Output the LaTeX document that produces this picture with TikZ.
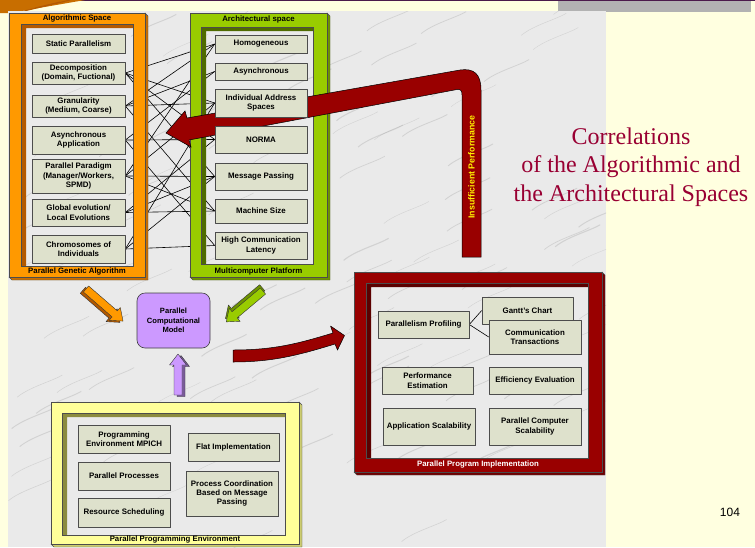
\documentclass[tikz,border=0pt]{standalone}
\usepackage{fontspec}
\setmainfont{Liberation Sans}
\newfontfamily\titlefont{Liberation Serif}
\usetikzlibrary{calc,arrows.meta,shadows}
\definecolor{slide}{HTML}{FFFFE0}
\definecolor{marble}{HTML}{EAEAEA}
\definecolor{boxfill}{HTML}{DEE1CC}
\definecolor{orM}{HTML}{FF9900}\definecolor{orD}{HTML}{B35900}\definecolor{orS}{HTML}{C86E00}
\definecolor{grM}{HTML}{99CC00}\definecolor{grD}{HTML}{4F6B00}\definecolor{grS}{HTML}{6E9400}
\definecolor{rdM}{HTML}{990000}\definecolor{rdD}{HTML}{5C0000}\definecolor{rdS}{HTML}{700000}
\definecolor{ylM}{HTML}{FFFF99}\definecolor{ylD}{HTML}{8C8C3F}\definecolor{ylS}{HTML}{CCCC70}
\definecolor{modelc}{HTML}{CC99FF}
\definecolor{titlered}{HTML}{990033}
\definecolor{topline}{HTML}{4B1A4B}
\pgfdeclarelayer{bg}\pgfdeclarelayer{lines}\pgfdeclarelayer{frames}
\pgfsetlayers{bg,lines,frames,main}
\tikzset{
  bx/.style={draw=black!70, line width=0.6pt, fill=boxfill, align=center,
    font=\bfseries\fontsize{7.9}{9.4}\selectfont, inner sep=1pt,
    drop shadow={shadow xshift=0.8pt, shadow yshift=-0.8pt, fill=black!65, opacity=1}},
  hd/.style={font=\bfseries\fontsize{7.8}{9}\selectfont, inner sep=0pt},
  link/.style={draw=black, line width=0.6pt},
}
% box: name, cx, cy, width, height, text
\newcommand\bxn[6]{\node[bx, minimum width=#4pt, minimum height=#5pt] (#1) at (#2,#3) {#6};}
% 3D frame: x1,y1,x2,y2, ix1,iy1,ix2,iy2, colour prefix
\newcommand\tdframe[9]{%
  \fill[#9S, draw=black!70, line width=0.4pt] (#3,#2) -- (#3+3,#2+3) -- (#3+3,#4+3) -- (#1+3,#4+3) -- (#1,#4) -- (#3,#4) -- cycle;
  \fill[#9M, even odd rule] (#1,#2) rectangle (#3,#4) (#5,#6) rectangle (#7,#8);
  \fill[#9D] (#5,#6) -- (#7,#6) -- (#7,#6+4) -- (#5+5,#6+4) -- (#5+5,#8) -- (#5,#8) -- cycle;
  \draw[black!70, line width=0.4pt] (#1,#2) rectangle (#3,#4) (#5,#6) rectangle (#7,#8);
}
% 3D block arrow: x, y, angle, length, main colour, dark colour
\newcommand\blockarrow[6]{%
  \begin{scope}[shift={(#1,#2)}, rotate=#3]
    \filldraw[fill=#6, draw=black!80, line width=0.4pt, shift={(-1.5,3)}] (0,-4) -- (#4-11,-4) -- (#4-11,-8.5) -- (#4,0) -- (#4-11,8.5) -- (#4-11,4) -- (0,4) -- cycle;
    \filldraw[fill=#5, draw=black!80, line width=0.4pt] (0,-4) -- (#4-11,-4) -- (#4-11,-8.5) -- (#4,0) -- (#4-11,8.5) -- (#4-11,4) -- (0,4) -- cycle;
  \end{scope}}
\begin{document}
\begin{tikzpicture}[x=1pt,y=-1pt,line join=round]
\useasboundingbox (0,0) rectangle (755,547);
\begin{pgfonlayer}{bg}
  \fill[slide] (0,0) rectangle (755,547);
  \fill[black!30] (558,1) rectangle (751,11.5);
  \fill[topline] (0,0) rectangle (755,1.4);
  \fill[orS] (0,0) -- (85,0) -- (10,13) -- (0,13) -- cycle;
  \draw[orD, line width=1pt] (20,12) -- (70,0) (35,8) -- (60,2);
  \fill[marble] (8,11) rectangle (606,547);
  \begin{scope}
    \clip (8,11) rectangle (606,547);
    \pgfmathsetseed{11}
    \foreach \i in {1,...,110}{
      \pgfmathsetmacro\xa{8+598*rnd}
      \pgfmathsetmacro\ya{11+560*rnd}
      \pgfmathsetmacro\wa{0.3+0.8*rnd}
      \draw[black!45, opacity=0.25, line width=\wa pt] (\xa,\ya) .. controls +(12,-10) and +(-10,6) .. +(45,-22);
    }
  \end{scope}
\end{pgfonlayer}

% ---------- boxes: algorithmic space ----------
\bxn{sp}{78.5}{43.5}{93}{19}{Static Parallelism}
\bxn{dec}{78.5}{73}{93}{22}{Decomposition\\(Domain, Fuctional)}
\bxn{gran}{78.5}{106}{93}{22}{Granularity\\(Medium, Coarse)}
\bxn{asyn}{78.5}{140}{93}{28}{Asynchronous\\Application}
\bxn{para}{78.5}{176}{93}{34}{Parallel Paradigm\\(Manager/Workers,\\SPMD)}
\bxn{glob}{78.5}{212.5}{93}{27}{Global evolution/\\Local Evolutions}
\bxn{chrom}{78.5}{249}{93}{28}{Chromosomes of\\Individuals}
% ---------- boxes: architectural space ----------
\bxn{hom}{261}{44}{92}{18}{Homogeneous}
\bxn{asy}{261}{71.5}{92}{17}{Asynchronous}
\bxn{ias}{261}{103}{92}{28}{Individual Address\\Spaces}
\bxn{norma}{261}{139.5}{92}{27}{NORMA}
\bxn{mp}{261}{176.5}{92}{27}{Message Passing}
\bxn{ms}{261}{211}{92}{24}{Machine Size}
\bxn{hcl}{261}{245.5}{92}{27}{High Communication\\Latency}
% ---------- boxes: implementation ----------
\bxn{pp}{423.5}{324.5}{91}{27}{Parallelism Profiling}
\bxn{gc}{527.5}{310.5}{91}{27}{Gantt's Chart}
\bxn{ct}{535}{337}{92}{34}{Communication\\Transactions}
\bxn{pe}{427.5}{380.5}{91}{27}{Performance\\Estimation}
\bxn{ee}{535}{380.5}{92}{27}{Efficiency Evaluation}
\bxn{as}{429}{426.5}{92}{37}{Application Scalability}
\bxn{pcs}{535}{426.5}{92}{37}{Parallel Computer\\Scalability}
% ---------- boxes: programming environment ----------
\bxn{mpich}{124}{439}{92}{28}{Programming\\Environment MPICH}
\bxn{pproc}{124}{476}{92}{28}{Parallel Processes}
\bxn{rs}{124}{512.5}{92}{29}{Resource Scheduling}
\bxn{flat}{233.5}{447}{91}{28}{Flat Implementation}
\bxn{pc}{232}{493.5}{92}{45}{Process Coordination\\Based on Message\\Passing}
% ---------- model ----------
\node[draw=black!75, line width=0.6pt, fill=modelc, rounded corners=8pt, minimum width=73pt, minimum height=55pt,
  align=center, font=\bfseries\fontsize{7.6}{9.5}\selectfont, inner sep=1pt] (model) at (173.5,320.5) {Parallel\\Computational\\Model};

% ---------- correlation links ----------
\begin{pgfonlayer}{lines}
  \foreach \a/\b in {dec/hom,dec/ias,dec/norma,dec/mp,
                     gran/hom,gran/asy,gran/ias,gran/ms,
                     asyn/asy,asyn/norma,asyn/hcl,
                     para/hom,para/ias,para/mp,para/ms,
                     glob/norma,glob/mp,glob/ms,
                     chrom/ias,chrom/mp,chrom/hcl}
    \draw[link] (\a.east) -- (\b.west);
  \draw[link] (pp.east) -- (gc.west);
  \draw[link] (pp.east) -- (ct.west);
\end{pgfonlayer}

% ---------- frames ----------
\begin{pgfonlayer}{frames}
  \tdframe{9}{13}{145}{277}{21}{24}{133}{266}{or}
  \tdframe{190}{13}{327}{277}{201}{27}{313}{264}{gr}
  \tdframe{354}{272}{602}{472}{366}{283}{588}{458}{rd}
  \tdframe{51}{402}{299}{544}{62}{413}{285}{535}{yl}
  % insufficient performance arrow
  \draw[fill=rdM, draw=black, line width=0.5pt] (462,257) -- (481,257) -- (481,90)
     .. controls (481,74) and (474,68) .. (460,70) -- (187,118) -- (185,111) -- (166,133)
     -- (191,147) -- (189,140) -- (457,89.5) .. controls (461,89) and (462,91) .. (462,95) -- cycle;
\end{pgfonlayer}

% frame labels
\node[hd] (t1) at (77,18.5) {Algorithmic Space};
\node[hd] (t2) at (77,271.5) {Parallel Genetic Algorithm};
\node[hd] (t3) at (258.5,19.5) {Architectural space};
\node[hd] (t4) at (258.5,271) {Multicomputer Platform};
\node[hd, text=white] (t5) at (478,464.5) {Parallel Program Implementation};
\node[hd] (t6) at (175,539.5) {Parallel Programming Environment};
\node[hd, rotate=90, text=yellow, font=\bfseries\fontsize{8.8}{10}\selectfont] (t7) at (471.5,167) {Insufficient Performance};

% 3D arrows into the model
\blockarrow{86}{289}{-40.9}{49}{orM}{orD}
\blockarrow{263}{291}{-140}{48}{grM}{grS}
\blockarrow{178}{395}{90}{41}{modelc}{modelc!60!black}
% curved arrow to implementation
\draw[fill=rdM, draw=black, line width=0.5pt] (233,350) .. controls (275,350) and (300,343) .. (333,333)
   -- (330.5,326) -- (344.5,335.5) -- (337.5,350) -- (335,344)
   .. controls (302,354) and (275,362) .. (233,362) -- cycle;

% title
\node[font=\titlefont\fontsize{24}{28.5}\selectfont, text=titlered, align=center] (title) at (631,167) {Correlations\\of the Algorithmic and\\the Architectural Spaces};
\node[font=\fontsize{12}{14}\selectfont, inner sep=0pt] (pg) at (730,512) {104};
\end{tikzpicture}
\end{document}
